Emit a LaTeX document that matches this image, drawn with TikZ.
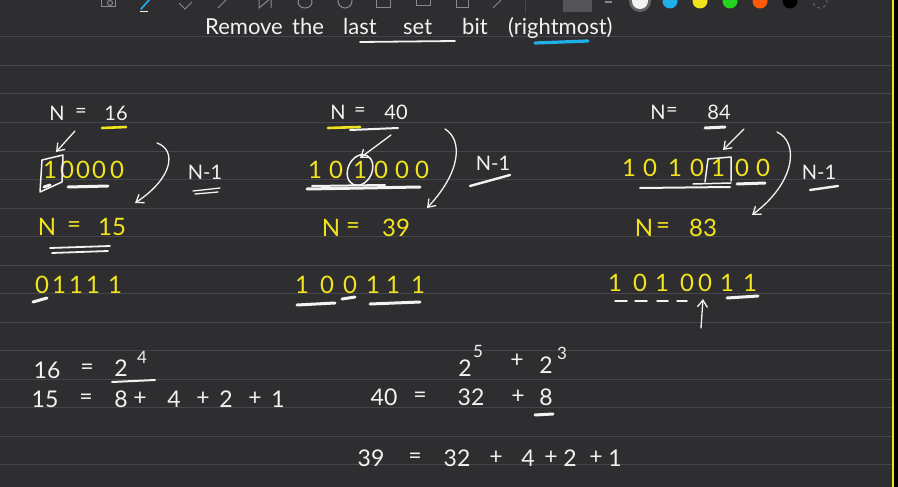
\documentclass[tikz,border=0pt]{standalone}
\usepackage{fontspec}
\setmainfont{Lato}
\usetikzlibrary{arrows.meta}
\definecolor{bg}{HTML}{2E2D30}
\definecolor{rulec}{HTML}{46454A}
\definecolor{ink}{HTML}{F2F2F2}
\definecolor{hl}{HTML}{F2E41C}
\definecolor{sky}{HTML}{1FB0EA}
\definecolor{tool}{HTML}{8A898D}
\definecolor{gr}{HTML}{22D41E}
\definecolor{orng}{HTML}{FF5A0A}
\begin{document}
\begin{tikzpicture}[x=1pt,y=-1pt,
  wt/.style={text=ink,inner sep=0pt,font=\fontsize{20}{24}\selectfont},
  yt/.style={text=hl,inner sep=0pt,font=\fontsize{24}{28}\selectfont},
  yb/.style={text=hl,inner sep=0pt,font=\fontsize{24}{28}\selectfont},
  eq/.style={text=ink,inner sep=0pt,font=\fontsize{23}{27}\selectfont},
  sup/.style={text=ink,inner sep=0pt,font=\fontsize{17}{20}\selectfont},
  ttl/.style={text=ink,inner sep=0pt,anchor=base west,font=\fontsize{22}{26}\selectfont},
  stroke/.style={draw=ink,line width=1.5pt,line cap=round,line join=round},
  heavy/.style={draw=ink,line width=3pt,line cap=round},
  yline/.style={draw=hl,line width=2.6pt,line cap=round},
  arr/.style={stroke,line width=1.3pt,-{Straight Barb[length=7pt,width=10pt]}},
  toolic/.style={draw=tool,line width=1pt}
]
\useasboundingbox (0,0) rectangle (898,487);
\fill[bg] (0,0) rectangle (898,487);
\fill[black] (894,0) rectangle (898,487);
\draw[hl,line width=1.2pt] (893,0) -- (893,487);
\foreach \k in {0,...,15}
  \draw[rulec,line width=1pt] (0,{37+28.5*\k}) -- (892,{37+28.5*\k});

% toolbar (cut off at the top)
\draw[toolic] (101,-2) rectangle (115,7);
\draw[toolic] (110,3) circle (2.5pt);
\draw[sky,line width=1.6pt,line cap=round] (141,9) -- (150,-1);
\draw[ink,line width=0.8pt] (140,11) -- (148,11);
\draw[toolic] (179,3) -- (185,9) -- (192,2);
\draw[toolic] (218,8) -- (222,4) -- (228,-2);
\draw[toolic] (259,-2) -- (259,8) -- (271,-2) -- (271,8);
\draw[toolic] (305,2) ellipse (7pt and 6pt);
\draw[toolic] (345,1) circle (7pt);
\draw[toolic] (376,-2) rectangle (390,8);
\draw[toolic] (416,-2) rectangle (430,6);
\draw[toolic] (456,-2) rectangle (468,8);
\draw[toolic] (493,8) -- (503,-2);
\draw[rulec,line width=1pt] (525,-2) -- (525,14);
\fill[rulec!80!tool] (563,-6) rectangle (592,12);
\draw[tool,line width=1.2pt] (605,2) -- (612,2);
\fill[tool!60!bg] (640,1) circle (11pt);
\fill[ink] (640,1) circle (8pt);
\fill[sky] (670,1) circle (7.5pt);
\fill[hl] (700,1) circle (7.5pt);
\fill[gr] (730,1) circle (7.5pt);
\fill[orng] (760,1) circle (7.5pt);
\fill[black] (790,1) circle (7.5pt);
\draw[tool!60!bg,dashed,line width=1pt] (820,1) circle (7pt);

% title
\node[ttl] (t1) at (205,35) {Remove};
\node[ttl] (t2) at (292,35) {the};
\node[ttl] (t3) at (343,35) {last};
\node[ttl] (t4) at (403,35) {set};
\node[ttl] (t5) at (462,35) {bit};
\node[ttl] (t6) at (508,35) {(rightmost)};
\coordinate (u1) at (360,42);
\coordinate (u2) at (455,41);
\draw[stroke,line width=1.8pt] (u1) -- (u2);
\draw[sky,line width=3.2pt,line cap=round] (535,43) -- (588,41);

% ---------- left column: N = 16 ----------
\node[wt] (aN) at (57,113) {N};
\node[wt] (aE) at (81,113) {=};
\node[wt] (aV) at (116,113) {16};
\draw[yline] (102,128) -- (126,127);
\coordinate (a1s) at (75,131);
\coordinate (a1e) at (56,152);
\draw[arr] (a1s) -- (a1e);
\foreach \x/\d [count=\i] in {50/1,67/0,83/0,99/0,117/0}
  \node[yt] (a-\i) at (\x,170) {\d};
\draw[stroke] (40,192) -- (42,160) -- (63,155) -- (62,182) -- cycle;
\draw[heavy] (44,187) -- (50,185);
\draw[heavy] (68,187) -- (108,186);
\coordinate (ac1) at (157,143);
\coordinate (ac2) at (135,203);
\draw[arr] (ac1) .. controls (177,150) and (173,178) .. (ac2);
\node[wt] (am) at (205,172) {N-1};
\draw[stroke,line width=1.3pt] (193,191) -- (220,188);
\draw[stroke,line width=1.3pt] (195,194) -- (218,192);
\node[yb] (bN) at (47,227) {N};
\node[yb] (bE) at (74,227) {=};
\node[yb] (bV) at (112,227) {15};
\draw[stroke,line width=1.8pt] (50,248) -- (110,246);
\draw[stroke,line width=1.8pt] (52,253) -- (108,251);
\foreach \x/\d [count=\i] in {42/0,59/1,76/1,93/1,115/1}
  \node[yt] (c-\i) at (\x,285) {\d};
\draw[heavy] (33,302) -- (47,298);

% ---------- middle column: N = 40 ----------
\node[wt] (dN) at (338,112) {N};
\node[wt] (dE) at (360,112) {=};
\node[wt] (dV) at (396,112) {40};
\draw[stroke,line width=2pt] (350,130) -- (398,128);
\draw[yline] (328,128) -- (360,127);
\coordinate (d1s) at (391,135);
\coordinate (d1e) at (360,158);
\draw[arr] (d1s) -- (d1e);
\foreach \x/\d [count=\i] in {315/1,336/0,360/1,381/0,402/0,422/0}
  \node[yt] (e-\i) at (\x,170) {\d};
\draw[stroke,rotate around={-25:(e-3.center)}] (e-3.center) ellipse (12pt and 16pt);
\draw[heavy] (307,189) -- (420,187);
\draw[stroke,line width=2pt] (312,186) -- (385,185);
\coordinate (dc1) at (445,129);
\coordinate (dc2) at (427,208);
\draw[arr] (dc1) .. controls (463,140) and (461,172) .. (dc2);
\node[wt] (dm) at (493,163) {N-1};
\draw[heavy,line width=2.4pt] (470,186) -- (510,175);
\node[yb] (fN) at (331,228) {N};
\node[yb] (fE) at (353,228) {=};
\node[yb] (fV) at (396,228) {39};
\foreach \x/\d [count=\i] in {302/1,327/0,350/0,373/1,393/1,418/1}
  \node[yt] (g-\i) at (\x,285) {\d};
\draw[heavy] (297,305) -- (335,303);
\draw[heavy] (342,299) -- (355,297);
\draw[heavy] (370,304) -- (420,302);

% ---------- right column: N = 84 ----------
\node[wt] (hN) at (658,112) {N};
\node[wt] (hE) at (672,112) {=};
\node[wt] (hV) at (719,112) {84};
\draw[heavy] (705,128) -- (725,127);
\coordinate (h1s) at (744,129);
\coordinate (h1e) at (723,150);
\draw[arr] (h1s) -- (h1e);
\foreach \x/\d [count=\i] in {629/1,650/0,675/1,697/0,718/1,742/0,763/0}
  \node[yt] (k-\i) at (\x,168) {\d};
\draw[stroke] (705,182) -- (708,159) -- (731,157) -- (731,181);
\draw[stroke] (693,184) -- (731,183);
\draw[stroke,line width=2pt] (640,188) -- (730,187);
\draw[heavy] (737,184) -- (765,183);
\coordinate (hc1) at (777,132);
\coordinate (hc2) at (752,215);
\draw[arr] (hc1) .. controls (799,142) and (796,182) .. (hc2);
\node[wt] (hm) at (819,172) {N-1};
\draw[heavy,line width=2.4pt] (810,190) -- (838,186);
\node[yb] (mN) at (644,228) {N};
\node[yb] (mE) at (663,228) {=};
\node[yb] (mV) at (703,228) {83};
\foreach \x/\d [count=\i] in {615/1,640/0,662/1,687/0,705/0,727/1,750/1}
  \node[yt] (p-\i) at (\x,283) {\d};
\foreach \a/\b in {615/627,635/647,657/668,677/687}
  \draw[stroke] (\a,301) -- (\b,301);
\draw[heavy] (727,298) -- (758,296);
\coordinate (q1s) at (701,328);
\coordinate (q1e) at (703,299);
\draw[arr] (q1s) -- (q1e);

% ---------- bottom equations ----------
\node[eq] (r1) at (47,370) {16};
\node[eq] (r2) at (87,369) {=};
\node[eq] (r3) at (121,368) {2};
\node[sup] (r4) at (142,357) {4};
\draw[stroke,line width=2pt] (112,382) -- (155,380);
\foreach \x/\s [count=\i] in {45/15,86/=,121/8,140/+,174/4,203/+,226/2,255/+,278/1}
  \node[eq] (s-\i) at (\x,399) {\s};

\node[eq] (w1) at (465,368) {2};
\node[sup] (w2) at (478,351) {5};
\node[eq] (w3) at (517,361) {+};
\node[eq] (w4) at (546,365) {2};
\node[sup] (w5) at (562,353) {3};
\foreach \x/\s [count=\i] in {384/40,420/=,471/32,518/+,546/8}
  \node[eq] (x-\i) at (\x,397) {\s};
\draw[heavy] (535,415) -- (553,414);
\foreach \x/\s [count=\i] in {371/39,415/=,457/32,496/+,528/4,551/+,570/2,596/+,615/1}
  \node[eq] (z-\i) at (\x,458) {\s};
\end{tikzpicture}
\end{document}
